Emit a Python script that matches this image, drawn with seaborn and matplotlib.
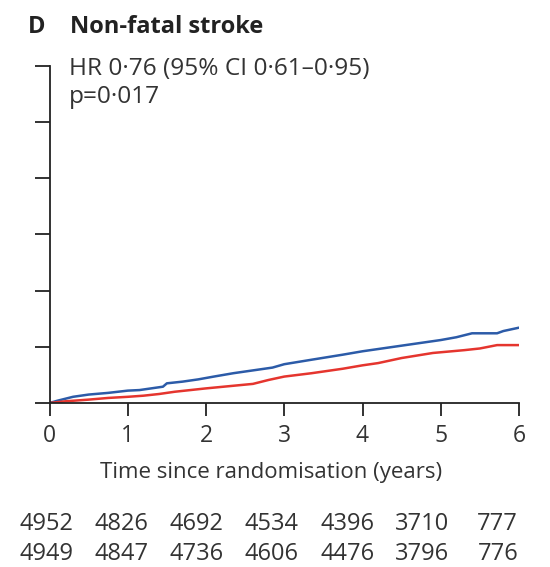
import matplotlib
matplotlib.use("Agg")
import matplotlib.pyplot as plt
import seaborn as sns
import pandas as pd

# ---- data ----
blue_t = [0, 0.1, 0.3, 0.5, 0.75, 1.0, 1.15, 1.3, 1.45, 1.5, 1.7, 1.9, 2.1, 2.35, 2.6,
          2.85, 3.0, 3.35, 3.75, 4.0, 4.25, 4.6, 5.0, 5.2, 5.4, 5.72, 5.8, 6.0]
blue_y = [0, 0.04, 0.11, 0.15, 0.18, 0.22, 0.23, 0.26, 0.29, 0.35, 0.38, 0.42, 0.47, 0.53, 0.58,
          0.63, 0.69, 0.77, 0.86, 0.92, 0.97, 1.04, 1.12, 1.17, 1.24, 1.24, 1.28, 1.34]
red_t = [0, 0.2, 0.5, 0.75, 1.0, 1.2, 1.4, 1.6, 1.8, 2.0, 2.3, 2.6, 2.8, 3.0, 3.35,
         3.75, 4.0, 4.2, 4.5, 4.9, 5.3, 5.5, 5.72, 6.0]
red_y = [0, 0.03, 0.06, 0.09, 0.11, 0.13, 0.16, 0.20, 0.23, 0.26, 0.30, 0.34, 0.41, 0.47, 0.53,
         0.61, 0.67, 0.71, 0.80, 0.89, 0.94, 0.97, 1.03, 1.03]

x_ticks = [0, 1, 2, 3, 4, 5, 6]
y_ticks = [0, 1, 2, 3, 4, 5, 6]
risk_row1 = ["4952", "4826", "4692", "4534", "4396", "3710", "777"]
risk_row2 = ["4949", "4847", "4736", "4606", "4476", "3796", "776"]

title_letter = "D"
title_text = "Non-fatal stroke"
hr_text = "HR 0·76 (95% CI 0·61–0·95)"
p_text = "p=0·017"
x_label = "Time since randomisation (years)"

groups = ["Blue group", "Red group"]
palette = {"Blue group": "#2c5ba8", "Red group": "#e5352e"}

df = pd.concat([
    pd.DataFrame({"time": blue_t, "cum": blue_y, "group": groups[0]}),
    pd.DataFrame({"time": red_t, "cum": red_y, "group": groups[1]}),
], ignore_index=True)

# ---- style ----
sns.set_style("white")
plt.rcParams["font.family"] = ["Open Sans", "DejaVu Sans"]

W, H = 550, 567
fig = plt.figure(figsize=(W / 100, H / 100), dpi=100)
ax = fig.add_axes([49.5 / W, (H - 403) / H, (519 - 49.5) / W, (403 - 65.7) / H])

sns.lineplot(data=df, x="time", y="cum", hue="group", palette=palette,
             linewidth=1.8, legend=False, ax=ax, estimator=None)

ax.set_xlim(0, 6)
ax.set_ylim(0, 6)
ax.set_xticks(x_ticks)
ax.set_xticklabels([str(v) for v in x_ticks], fontsize=16.5, color="#333333")
ax.set_yticks(y_ticks)
ax.set_yticklabels([])
ax.set_ylabel("")

for s in ["top", "right"]:
    ax.spines[s].set_visible(False)
for s in ["left", "bottom"]:
    ax.spines[s].set_linewidth(1.3)
    ax.spines[s].set_color("#222222")
ax.tick_params(axis="x", direction="out", length=9, width=1.3, color="#222222", pad=6,
               bottom=True)
ax.tick_params(axis="y", direction="out", length=10.5, width=1.3, color="#222222",
               left=True)

ax.set_xlabel(x_label, fontsize=16, color="#333333")
ax.xaxis.set_label_coords((271.5 - 49.5) / (519 - 49.5), (403 - 478) / (403 - 65.7))
ax.xaxis.label.set_va("baseline")

# title
fig.text(28 / W, (H - 33) / H, title_letter, fontsize=17, fontweight="bold",
         color="#222222", va="baseline", ha="left")
fig.text(70 / W, (H - 33) / H, title_text, fontsize=17, fontweight="bold",
         color="#222222", va="baseline", ha="left")

# annotation
fig.text(69 / W, (H - 75) / H, hr_text, fontsize=17.6, color="#333333",
         va="baseline", ha="left")
fig.text(69 / W, (H - 103) / H, p_text, fontsize=17.6, color="#333333",
         va="baseline", ha="left")

# numbers at risk
for k, (a, b) in enumerate(zip(risk_row1, risk_row2)):
    xc = (46 + 75.3 * k) / W
    fig.text(xc, (H - 530) / H, a, fontsize=17, color="#333333", ha="center", va="baseline")
    fig.text(xc, (H - 560) / H, b, fontsize=17, color="#333333", ha="center", va="baseline")

fig.savefig("out.png", dpi=100, facecolor="white")
